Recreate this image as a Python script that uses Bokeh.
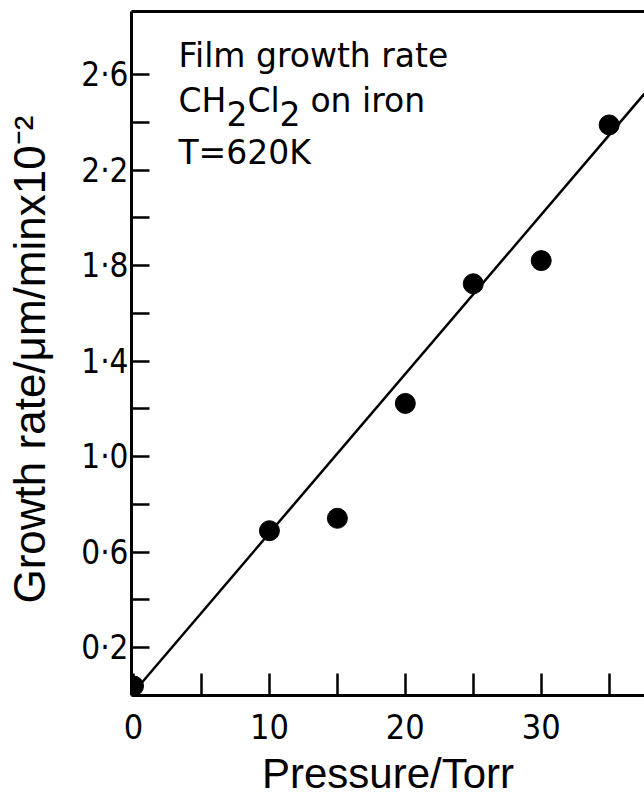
from bokeh.plotting import figure
from bokeh.models import FixedTicker, LinearAxis, Range1d
from bokeh.core.properties import value
from bokeh.embed import file_html
from bokeh.resources import INLINE

# ---- data ----
pressure = [0, 10, 15, 20, 25, 30, 35]
growth = [0.04, 0.69, 0.742, 1.223, 1.724, 1.821, 2.389]

fit_pressure = [0.4, 37.6]
fit_growth = [0.04, 2.52]

x_ticks = [0, 5, 10, 15, 20, 25, 30, 35]
x_tick_labels = ["0", "", "10", "", "20", "", "30", ""]
y_ticks = [0.2, 0.4, 0.6, 0.8, 1.0, 1.2, 1.4, 1.6, 1.8, 2.0, 2.2, 2.4, 2.6]
y_tick_labels = ["0·2", "", "0·6", "", "1·0", "", "1·4", "", "1·8", "", "2·2", "", "2·6"]

x_title = "Pressure/Torr"
y_title = "Growth  rate/μm/minx10⁻²"
note_lines = ["Film growth rate", "T=620K"]
note_formula = ["CH", "2", "Cl", "2", "on iron"]

TICK_FONT = "DejaVu Sans Condensed"
LABEL_FONT = "Liberation Sans"
NOTE_FONT = "DejaVu Sans"

p = figure(width=644, height=807, output_backend="svg", toolbar_location=None,
           x_range=Range1d(-0.15, 37.6), y_range=Range1d(0, 2.864),
           min_border_left=131, min_border_right=0, min_border_top=11, min_border_bottom=112)
p.outline_line_color = None
p.grid.visible = False
p.background_fill_color = "white"
p.border_fill_color = "white"

# fitted line and points
p.line(fit_pressure, fit_growth, line_color="black", line_width=2.5)
p.scatter(pressure, growth, size=20, color="black")

# axes
xa = p.xaxis[0]
xa.ticker = FixedTicker(ticks=x_ticks)
xa.major_label_overrides = {t: s for t, s in zip(x_ticks, x_tick_labels)}
xa.minor_tick_line_color = None
xa.major_tick_in = 22
xa.major_tick_out = 0
xa.major_tick_line_width = 2.5
xa.axis_line_width = 3
xa.major_label_text_font = TICK_FONT
xa.major_label_text_font_size = "34px"
xa.major_label_text_color = "black"
xa.major_label_standoff = 18
xa.axis_label = x_title
xa.axis_label_text_font = LABEL_FONT
xa.axis_label_text_font_size = "42px"
xa.axis_label_text_font_style = "normal"
xa.axis_label_text_color = "black"
xa.axis_label_standoff = 8

ya = p.yaxis[0]
ya.ticker = FixedTicker(ticks=y_ticks)
ya.major_label_overrides = {t: s for t, s in zip(y_ticks, y_tick_labels)}
ya.minor_tick_line_color = None
ya.major_tick_in = 18
ya.major_tick_out = 0
ya.major_tick_line_width = 2.5
ya.axis_line_width = 3
ya.major_label_text_font = TICK_FONT
ya.major_label_text_font_size = "33px"
ya.major_label_text_color = "black"
ya.major_label_standoff = 3
ya.axis_label = y_title
ya.axis_label_text_font = LABEL_FONT
ya.axis_label_text_font_size = "44px"
ya.axis_label_text_font_style = "normal"
ya.axis_label_text_color = "black"
ya.axis_label_standoff = 24

top = LinearAxis(ticker=FixedTicker(ticks=[]), axis_line_width=3,
                 major_tick_line_color=None, minor_tick_line_color=None,
                 major_label_text_font_size="0px")
p.add_layout(top, "above")

# annotation
common = dict(text_font=value(NOTE_FONT), text_font_size="33px", text_color="black",
              text_baseline="alphabetic", text_align="left")
note_x = 3.3
p.text(x=[note_x], y=[2.68], text=[note_lines[0]], **common)
p.text(x=[note_x], y=[2.273], text=[note_lines[1]], **common)
offsets = [0, 48, 69, 101, 132]
drops = [0, 13, 0, 13, 0]
for txt, dx, dy in zip(note_formula, offsets, drops):
    p.text(x=[note_x], y=[2.49], text=[txt], x_offset=dx, y_offset=dy, **common)

open("out.html", "w").write(file_html(p, INLINE))
